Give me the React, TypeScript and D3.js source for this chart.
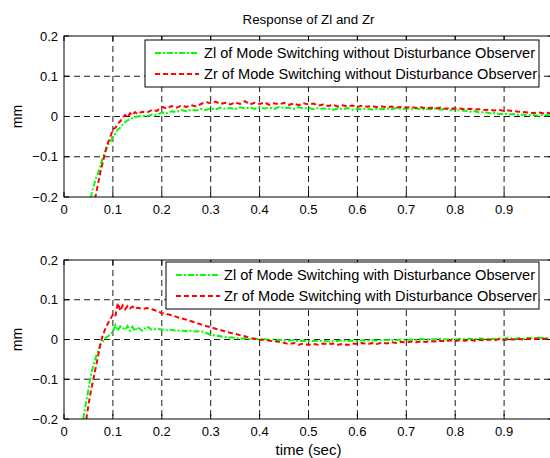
import { useEffect, useRef } from 'react'
import * as d3 from 'd3'

// sample times (sec): fine steps over the rise, then 0.01
const time = [
  0.035, 0.04, 0.045, 0.05, 0.055, 0.06, 0.065, 0.07, 0.075, 0.08, 0.085, 0.09,
  0.095, 0.1, 0.105, 0.11, 0.115, 0.12, 0.125, 0.13, 0.135, 0.14, 0.145, 0.15,
  0.16, 0.17, 0.18, 0.19, 0.2, 0.21, 0.22, 0.23, 0.24, 0.25, 0.26, 0.27, 0.28, 0.29,
  0.3, 0.31, 0.32, 0.33, 0.34, 0.35, 0.36, 0.37, 0.38, 0.39, 0.4, 0.41, 0.42, 0.43,
  0.44, 0.45, 0.46, 0.47, 0.48, 0.49, 0.5, 0.51, 0.52, 0.53, 0.54, 0.55, 0.56, 0.57,
  0.58, 0.59, 0.6, 0.61, 0.62, 0.63, 0.64, 0.65, 0.66, 0.67, 0.68, 0.69, 0.7, 0.71,
  0.72, 0.73, 0.74, 0.75, 0.76, 0.77, 0.78, 0.79, 0.8, 0.81, 0.82, 0.83, 0.84, 0.85,
  0.86, 0.87, 0.88, 0.89, 0.9, 0.91, 0.92, 0.93, 0.94, 0.95, 0.96, 0.97, 0.98, 0.99, 1.0,
]

// without disturbance observer
const zlWithout = [
  -0.35, -0.32, -0.28, -0.24, -0.2, -0.175, -0.155, -0.14, -0.12, -0.1, -0.085, -0.07,
  -0.062, -0.05, -0.042, -0.032, -0.028, -0.02, -0.014, -0.01, -0.006, -0.004, -0.002, 0.0,
  0.002, 0.001, 0.005, 0.004, 0.01, 0.008, 0.013, 0.011, 0.016, 0.013, 0.017, 0.015, 0.019, 0.016,
  0.02, 0.018, 0.022, 0.019, 0.021, 0.018, 0.023, 0.02, 0.022, 0.019, 0.023, 0.02, 0.022, 0.019,
  0.024, 0.021, 0.022, 0.019, 0.023, 0.02, 0.021, 0.018, 0.021, 0.019, 0.02, 0.017, 0.02, 0.018,
  0.021, 0.017, 0.019, 0.018, 0.02, 0.017, 0.019, 0.018, 0.02, 0.018, 0.021, 0.019, 0.02, 0.018,
  0.021, 0.017, 0.019, 0.018, 0.02, 0.017, 0.019, 0.016, 0.018, 0.015, 0.014, 0.012, 0.013, 0.01,
  0.011, 0.008, 0.009, 0.006, 0.007, 0.005, 0.006, 0.004, 0.005, 0.003, 0.004, 0.002, 0.004, 0.003, 0.002,
]
const zrWithout = [
  -0.4, -0.37, -0.33, -0.29, -0.255, -0.22, -0.195, -0.165, -0.135, -0.11, -0.085, -0.065,
  -0.05, -0.032, -0.028, -0.018, -0.012, -0.003, 0.004, -0.002, 0.008, 0.003, 0.011, 0.006,
  0.012, 0.01, 0.016, 0.014, 0.024, 0.02, 0.026, 0.022, 0.027, 0.024, 0.028, 0.025, 0.031, 0.036,
  0.033, 0.037, 0.031, 0.034, 0.03, 0.035, 0.031, 0.038, 0.03, 0.034, 0.031, 0.035, 0.029, 0.033,
  0.03, 0.034, 0.029, 0.032, 0.028, 0.033, 0.03, 0.032, 0.027, 0.03, 0.026, 0.029, 0.025, 0.028,
  0.025, 0.027, 0.024, 0.027, 0.024, 0.026, 0.023, 0.025, 0.023, 0.025, 0.022, 0.024, 0.022, 0.024,
  0.021, 0.023, 0.02, 0.022, 0.02, 0.022, 0.019, 0.021, 0.019, 0.02, 0.018, 0.019, 0.017, 0.018,
  0.016, 0.017, 0.015, 0.016, 0.014, 0.015, 0.013, 0.012, 0.011, 0.01, 0.009, 0.01, 0.008, 0.009, 0.007,
]

// with disturbance observer
const zlWith = [
  -0.23, -0.195, -0.16, -0.125, -0.09, -0.065, -0.045, -0.028, -0.012, -0.004, 0.004, 0.008,
  0.014, 0.019, 0.036, 0.022, 0.033, 0.03, 0.024, 0.034, 0.022, 0.032, 0.021, 0.031,
  0.022, 0.033, 0.024, 0.027, 0.025, 0.023, 0.024, 0.022, 0.023, 0.021, 0.022, 0.02, 0.021, 0.017,
  0.012, 0.01, 0.008, 0.006, 0.005, 0.004, 0.002, 0.003, 0.001, 0.002, 0.0, 0.001, -0.001, 0.0,
  -0.002, -0.001, -0.003, -0.002, -0.004, -0.003, -0.005, -0.003, -0.004, -0.003, -0.005, -0.003, -0.004, -0.002,
  -0.004, -0.003, -0.004, -0.002, -0.003, -0.002, -0.003, -0.001, -0.002, -0.001, -0.002, 0.0, -0.001, 0.0,
  -0.001, 0.001, 0.0, 0.001, 0.0, 0.002, 0.0, 0.001, 0.0, 0.002, 0.001, 0.002, 0.001, 0.003,
  0.001, 0.002, 0.001, 0.003, 0.002, 0.004, 0.002, 0.003, 0.002, 0.004, 0.003, 0.005, 0.003, 0.004, 0.005,
]
const zrWith = [
  -0.28, -0.245, -0.205, -0.165, -0.13, -0.1, -0.07, -0.04, -0.008, 0.013, 0.028, 0.041,
  0.052, 0.063, 0.058, 0.092, 0.072, 0.086, 0.076, 0.084, 0.078, 0.083, 0.077, 0.08,
  0.077, 0.079, 0.076, 0.072, 0.066, 0.064, 0.061, 0.057, 0.053, 0.05, 0.046, 0.042, 0.038, 0.034,
  0.031, 0.027, 0.024, 0.02, 0.017, 0.014, 0.011, 0.008, 0.004, 0.002, -0.001, 0.0, -0.003, -0.004,
  -0.006, -0.008, -0.012, -0.009, -0.013, -0.01, -0.014, -0.011, -0.013, -0.01, -0.012, -0.01, -0.013, -0.011,
  -0.014, -0.01, -0.011, -0.009, -0.012, -0.009, -0.011, -0.008, -0.01, -0.007, -0.009, -0.006, -0.008, -0.005,
  -0.007, -0.005, -0.006, -0.004, -0.005, -0.003, -0.005, -0.002, -0.004, -0.002, -0.003, -0.001, -0.003, -0.001,
  -0.002, 0.0, -0.002, 0.001, -0.001, 0.001, 0.0, 0.002, 0.0, 0.002, 0.001, 0.003, 0.001, 0.003, 0.002,
]

const xTicks = [0, 0.1, 0.2, 0.3, 0.4, 0.5, 0.6, 0.7, 0.8, 0.9]
const yTicks = [-0.2, -0.1, 0, 0.1, 0.2]

const panels = [
  {
    top: 36, bottom: 197,
    zl: zlWithout, zr: zrWithout,
    labels: [
      'Zl of Mode Switching without Disturbance Observer',
      'Zr of Mode Switching without Disturbance Observer',
    ],
    legend: { x: 145, y: 40, w: 394, h: 47, lineX: 155, textX: 204, widths: [331, 333] },
  },
  {
    top: 260, bottom: 419,
    zl: zlWith, zr: zrWith,
    labels: [
      'Zl of Mode Switching with Disturbance Observer',
      'Zr of Mode Switching with Disturbance Observer',
    ],
    legend: { x: 166, y: 262, w: 373, h: 47, lineX: 176, textX: 224, widths: [311, 313] },
  },
]

const FONT = 'Arial, "Liberation Sans", Helvetica, sans-serif'
const GREEN = '#00ff00'
const RED = '#ff0000'
const GREEN_DASH = '6,2,2,2'
const RED_DASH = '5,3'

export default function App() {
  const svgRef = useRef<SVGSVGElement>(null)

  useEffect(() => {
    const W = 550
    const H = 458
    const left = 64
    const right = 553

    const svg = d3.select(svgRef.current)
    svg.selectAll('*').remove()
    svg.attr('width', W).attr('height', H)

    svg.append('rect').attr('width', W).attr('height', H).attr('fill', '#fff')

    const x = d3.scaleLinear().domain([0, 1]).range([left, right])

    svg.append('text')
      .attr('x', (left + right) / 2).attr('y', 24)
      .attr('text-anchor', 'middle').attr('font-family', FONT).attr('font-size', 13)
      .attr('textLength', 132).attr('lengthAdjust', 'spacingAndGlyphs')
      .text('Response of Zl and Zr')

    panels.forEach((p, i) => {
      const y = d3.scaleLinear().domain([-0.2, 0.2]).range([p.bottom, p.top])
      const g = svg.append('g')

      // grid
      g.selectAll('.vgrid')
        .data(xTicks.filter((d) => d > 0))
        .join('line')
        .attr('x1', (d) => x(d)).attr('x2', (d) => x(d))
        .attr('y1', p.top).attr('y2', p.bottom)
        .attr('stroke', '#000').attr('stroke-width', 0.9).attr('stroke-dasharray', '6,4')
      g.selectAll('.hgrid')
        .data(yTicks.filter((d) => d > -0.2 && d < 0.2))
        .join('line')
        .attr('x1', left).attr('x2', right)
        .attr('y1', (d) => y(d)).attr('y2', (d) => y(d))
        .attr('stroke', '#000').attr('stroke-width', 0.9).attr('stroke-dasharray', '6,4')

      // curves
      const clipId = `clip-${i}`
      svg.append('clipPath').attr('id', clipId)
        .append('rect')
        .attr('x', left).attr('y', p.top)
        .attr('width', right - left).attr('height', p.bottom - p.top)

      const line = d3.line<number>()
        .x((_, j) => x(time[j]))
        .y((d) => y(d))

      g.append('path')
        .datum(p.zl)
        .attr('clip-path', `url(#${clipId})`)
        .attr('fill', 'none').attr('stroke', GREEN).attr('stroke-width', 2)
        .attr('stroke-dasharray', GREEN_DASH)
        .attr('d', line)
      g.append('path')
        .datum(p.zr)
        .attr('clip-path', `url(#${clipId})`)
        .attr('fill', 'none').attr('stroke', RED).attr('stroke-width', 2)
        .attr('stroke-dasharray', RED_DASH)
        .attr('d', line)

      // box and inward ticks
      g.append('rect')
        .attr('x', left).attr('y', p.top)
        .attr('width', right - left).attr('height', p.bottom - p.top)
        .attr('fill', 'none').attr('stroke', '#000').attr('stroke-width', 1)

      g.selectAll('.xtick')
        .data(xTicks)
        .join('path')
        .attr('d', (d) => `M${x(d)},${p.bottom}v-5M${x(d)},${p.top}v5`)
        .attr('stroke', '#000')
      g.selectAll('.ytick')
        .data(yTicks)
        .join('path')
        .attr('d', (d) => `M${left},${y(d)}h5M${right},${y(d)}h-5`)
        .attr('stroke', '#000')

      g.selectAll('.xlab')
        .data(xTicks)
        .join('text')
        .attr('x', (d) => x(d)).attr('y', p.bottom + 17)
        .attr('text-anchor', 'middle').attr('font-family', FONT).attr('font-size', 13)
        .text((d) => d3.format('~g')(d))
      g.selectAll('.ylab')
        .data(yTicks)
        .join('text')
        .attr('x', left - 6).attr('y', (d) => y(d) + 4.5)
        .attr('text-anchor', 'end').attr('font-family', FONT).attr('font-size', 13)
        .text((d) => d3.format('~g')(d))

      const mid = (p.top + p.bottom) / 2
      g.append('text')
        .attr('transform', `translate(22,${mid}) rotate(-90)`)
        .attr('text-anchor', 'middle').attr('font-family', FONT).attr('font-size', 14)
        .text('mm')

      // legend
      const L = p.legend
      const lg = g.append('g')
      lg.append('rect')
        .attr('x', L.x).attr('y', L.y).attr('width', L.w).attr('height', L.h)
        .attr('fill', '#fff').attr('stroke', '#000').attr('stroke-width', 1)
      const rows = [
        { color: GREEN, dash: GREEN_DASH, label: p.labels[0], w: L.widths[0] },
        { color: RED, dash: RED_DASH, label: p.labels[1], w: L.widths[1] },
      ]
      rows.forEach((r, k) => {
        const ry = L.y + 13 + k * 21
        lg.append('line')
          .attr('x1', L.lineX).attr('x2', L.lineX + 44)
          .attr('y1', ry).attr('y2', ry)
          .attr('stroke', r.color).attr('stroke-width', 2).attr('stroke-dasharray', r.dash)
        lg.append('text')
          .attr('x', L.textX).attr('y', ry + 5)
          .attr('font-family', FONT).attr('font-size', 14)
          .attr('textLength', r.w).attr('lengthAdjust', 'spacingAndGlyphs')
          .text(r.label)
      })
    })

    svg.append('text')
      .attr('x', (left + right) / 2).attr('y', 455)
      .attr('text-anchor', 'middle').attr('font-family', FONT).attr('font-size', 14)
      .attr('textLength', 66).attr('lengthAdjust', 'spacingAndGlyphs')
      .text('time (sec)')

    return () => {
      svg.selectAll('*').remove()
    }
  }, [])

  return (
    <div style={{ position: 'absolute', left: 0, top: 0 }}>
      <svg ref={svgRef} style={{ display: 'block' }} />
    </div>
  )
}
